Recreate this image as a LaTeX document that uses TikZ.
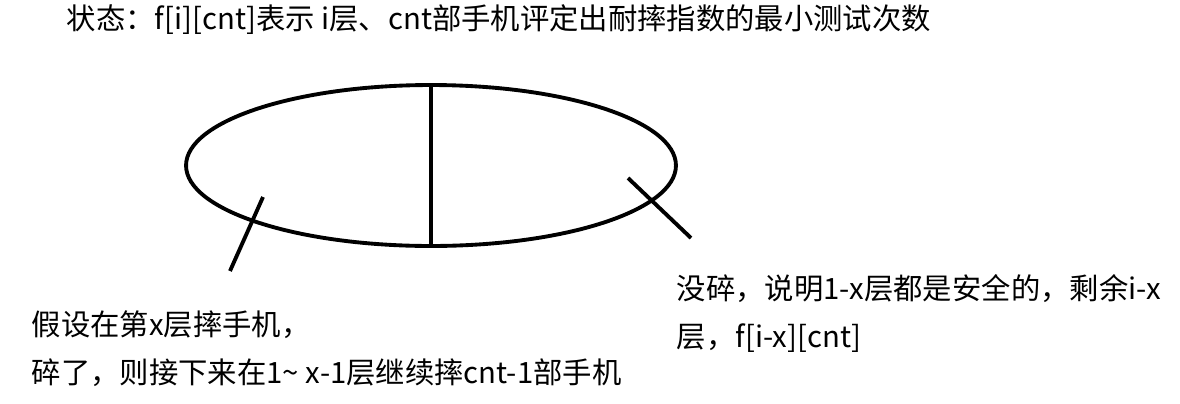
\documentclass[tikz,border=0pt]{standalone}
\usepackage{fontspec}
\newfontfamily\cjk{Noto Sans CJK SC}
\usetikzlibrary{shapes.geometric,positioning}

\begin{document}
\begin{tikzpicture}[x=0.02cm, y=-0.02cm, line width=2.2pt,
    txt/.style={font=\cjk\fontsize{16.7}{27.2}\selectfont, inner sep=0pt, align=left, anchor=west}]
    \useasboundingbox (0,0) rectangle (1180,403);
    \node (title) [txt] at (65,20) {状态：f[i][cnt]表示 i层、cnt部手机评定出耐摔指数的最小测试次数};

    \node (oval) [draw, ellipse, minimum width=9.8cm, minimum height=3.22cm, inner sep=0pt] at (431,165.5) {};
    \draw (oval.north) -- (oval.south);

    \coordinate (brokeA) at (263,197);
    \coordinate (brokeB) at (230,271);
    \coordinate (safeA) at (628,178);
    \coordinate (safeB) at (691,238);
    \draw (brokeA) -- (brokeB);
    \draw (safeA) -- (safeB);

    \node (broke) [txt] at (30,349) {假设在第x层摔手机，\\碎了，则接下来在1\textasciitilde{} x-1层继续摔cnt-1部手机};
    \node (safe) [txt] at (675,313.5) {没碎，说明1-x层都是安全的，剩余i-x\\层，f[i-x][cnt]};
\end{tikzpicture}
\end{document}
